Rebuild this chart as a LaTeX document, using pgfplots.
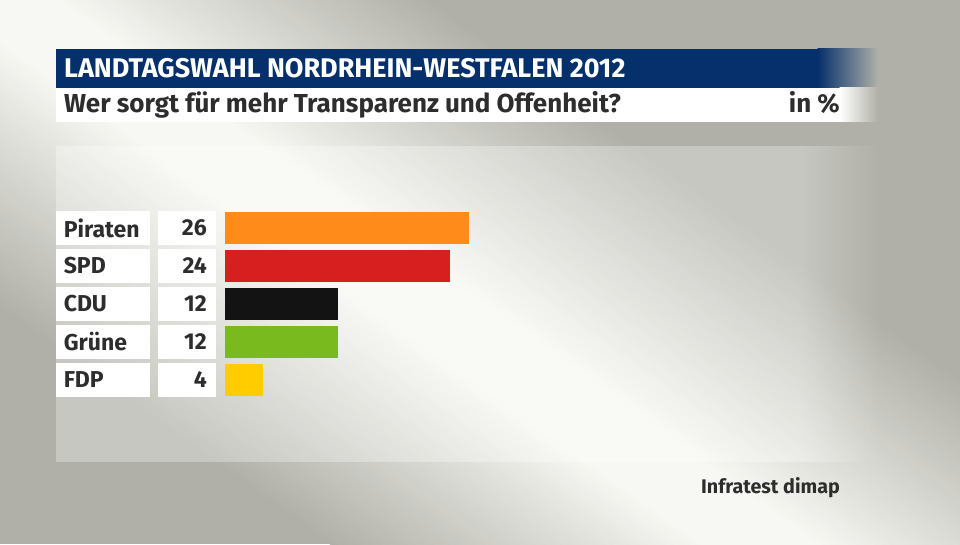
\documentclass[border=0pt]{standalone}
\usepackage{pgfplots}
\pgfplotsset{compat=1.18}
\usetikzlibrary{fadings}
\usepackage{fontspec}
\setmainfont{Fira Sans}
\definecolor{bgdark}{HTML}{B0B0A8}
\definecolor{bglight}{HTML}{F7F7F3}
\definecolor{navy}{HTML}{06306B}
\definecolor{txt}{HTML}{2D2D2D}
\definecolor{cpir}{HTML}{FF8C1A}
\definecolor{cspd}{HTML}{D81F20}
\definecolor{ccdu}{HTML}{131313}
\definecolor{cgru}{HTML}{79BB1E}
\definecolor{cfdp}{HTML}{FFCC00}
\begin{document}
\begin{tikzpicture}[x=1pt,y=1pt]
% background
\fill[bgdark] (0,0) rectangle (960,544);
\begin{scope}
\clip (0,0) rectangle (960,544);
\begin{scope}[shift={(0,544)}, rotate=-35.6]
\foreach \i [evaluate=\i as \p using {int(100-\i*100/44)}, evaluate=\i as \da using {30+\i*5}] in {43,42,...,0} {
  \fill[bglight!\p!bgdark] (-300,-\da-5.6) rectangle (1500,\da+5.6);
}
\fill[bglight] (-300,-30.5) rectangle (1500,30.5);
\end{scope}
\fill[white, opacity=0.3] (56,82) rectangle (800,398);
\fill[white, opacity=0.3, path fading=east] (799.5,82) rectangle (880,398);
\end{scope}
% header bars
\fill[navy] (56,456) rectangle (818,495);
\shade[left color=navy, right color=bgdark] (817.5,456) rectangle (878,495);
\fill[white] (56,422) rectangle (840,456);
\shade[left color=white, right color=bgdark] (839.5,422) rectangle (878,456);
\node[anchor=base west, inner sep=0, text=white, font=\fontsize{27}{30}\selectfont\bfseries] at (64,466) {LANDTAGSWAHL NORDRHEIN-WESTFALEN 2012};
\node[anchor=base west, inner sep=0, text=txt, font=\fontsize{26}{30}\selectfont\bfseries] at (64,431) {Wer sorgt für mehr Transparenz und Offenheit?};
\node[anchor=base east, inner sep=0, text=txt, font=\fontsize{26}{30}\selectfont\bfseries] at (840,431) {in \%};
\node[anchor=base east, inner sep=0, text=txt, font=\fontsize{19.7}{22}\selectfont\bfseries] at (840,51) {Infratest dimap};
\begin{axis}[
  at={(225pt,145pt)}, anchor=south west,
  scale only axis, width=562.8pt, height=190pt,
  xmin=0, xmax=60, ymin=-0.5, ymax=4.5,
  axis line style={draw=none}, tick style={draw=none},
  major tick length=0pt,
  xtick=\empty, ytick={0,1,2,3,4},
  yticklabels={FDP,Grüne,CDU,SPD,Piraten},
  yticklabel style={anchor=east, xshift=-75pt, fill=white, text=txt,
    text width=78pt, inner xsep=8pt, align=left, minimum height=34pt,
    font=\fontsize{23}{26}\selectfont\bfseries},
  /pgf/number format/assume math mode=true,
  clip=false,
]
\addplot[xbar, bar width=32pt, bar shift=0pt, fill=cpir, draw=none] coordinates {(26,4)};
\addplot[xbar, bar width=32pt, bar shift=0pt, fill=cspd, draw=none] coordinates {(24,3)};
\addplot[xbar, bar width=32pt, bar shift=0pt, fill=ccdu, draw=none] coordinates {(12,2)};
\addplot[xbar, bar width=32pt, bar shift=0pt, fill=cgru, draw=none] coordinates {(12,1)};
\addplot[xbar, bar width=32pt, bar shift=0pt, fill=cfdp, draw=none] coordinates {(4,0)};
\addplot[draw=none, mark=none, point meta=explicit, nodes near coords,
  nodes near coords style={anchor=east, xshift=-9pt, fill=white, text=txt,
    text width=40pt, inner xsep=9pt, align=right, minimum height=34pt,
    font=\fontsize{23}{26}\selectfont\bfseries}]
  coordinates {(0,4) [26] (0,3) [24] (0,2) [12] (0,1) [12] (0,0) [4]};
\end{axis}
\pgfresetboundingbox
\useasboundingbox (0,0) rectangle (960,544);
\end{tikzpicture}
\end{document}
